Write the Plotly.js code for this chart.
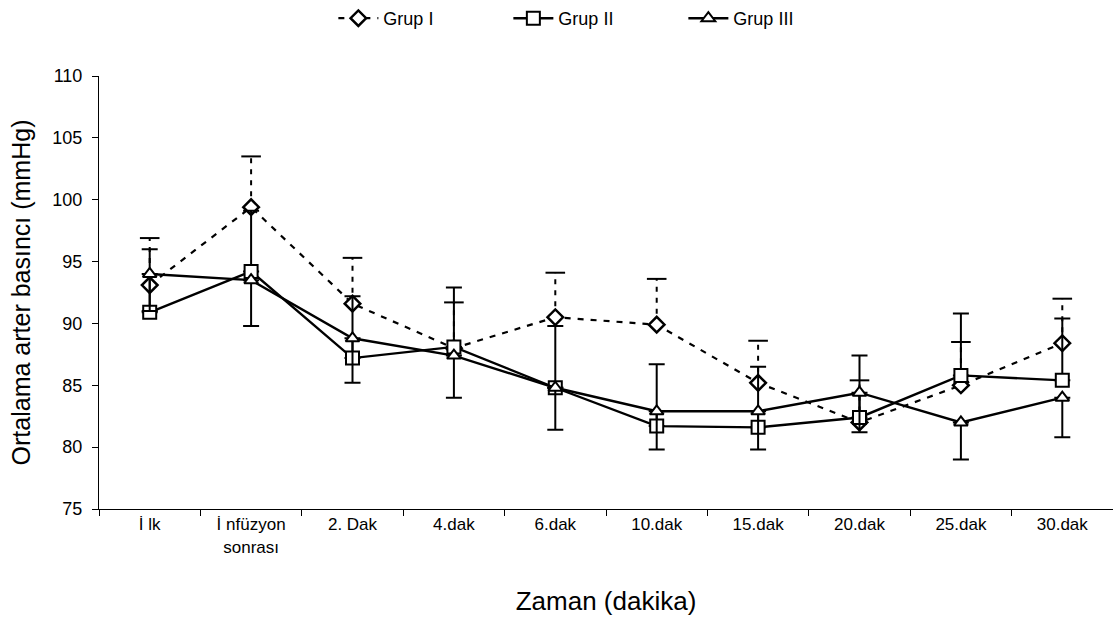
<!DOCTYPE html>
<html>
<head>
<meta charset="utf-8">
<script src="https://cdn.plot.ly/plotly-3.0.1.min.js"></script>
<style>html,body{margin:0;padding:0;background:#fff;}#chart{width:1113px;height:625px;}</style>
</head>
<body>
<div id="chart"></div>
<script>
// ---- data ----
const categories = ["İ lk", "İ nfüzyon<br>sonrası", "2. Dak", "4.dak", "6.dak", "10.dak", "15.dak", "20.dak", "25.dak", "30.dak"];
const grup1 = [93.1, 99.4, 91.6, 88.0, 90.5, 89.9, 85.2, 82.0, 85.0, 88.4];
const grup1Plus = [3.8, 4.1, 3.7, 3.7, 3.6, 3.7, 3.4, 3.4, 3.5, 3.6];
const grup2 = [90.9, 94.2, 87.2, 88.1, 84.8, 81.7, 81.6, 82.4, 85.8, 85.4];
const grup2Plus = [5.1, 4.9, 5.0, 4.8, 5.0, 5.0, 4.9, 5.0, 5.0, 5.0];
const grup3 = [94.0, 93.5, 88.8, 87.4, 84.8, 82.9, 82.9, 84.4, 82.0, 84.0];
const grup3Minus = [3.0, 3.7, 3.6, 3.4, 3.4, 3.1, 3.1, 3.2, 3.0, 3.2];
const yTickVals = [75, 80, 85, 90, 95, 100, 105, 110];

const FONT = "Liberation Sans, Arial, sans-serif";
const zeros = categories.map(() => 0);

// dashed error bars for Grup I built from its data
const g1ErrX = [], g1ErrY = [];
categories.forEach((c, i) => {
  g1ErrX.push(c, c, null);
  g1ErrY.push(grup1[i], grup1[i] + grup1Plus[i], null);
});
const g1TopY = grup1.map((v, i) => v + grup1Plus[i]);

const traces = [
  {
    x: g1ErrX, y: g1ErrY, type: "scatter", mode: "lines",
    line: {color: "#000", width: 2, dash: "5px,6px"},
    showlegend: false, hoverinfo: "skip", connectgaps: false
  },
  {
    x: categories, y: g1TopY, type: "scatter", mode: "markers",
    marker: {symbol: "line-ew", size: 14, line: {color: "#000", width: 2}},
    showlegend: false, hoverinfo: "skip"
  },
  {
    name: "Grup I", x: categories, y: grup1, type: "scatter", mode: "lines+markers",
    line: {color: "#000", width: 2.2, dash: "6px,7px"},
    marker: {symbol: "diamond", size: 12, color: "#fff", line: {color: "#000", width: 2.5}}
  },
  {
    name: "Grup II", x: categories, y: grup2, type: "scatter", mode: "lines+markers",
    line: {color: "#000", width: 2.4},
    marker: {symbol: "square", size: 13, color: "#fff", line: {color: "#000", width: 2}},
    error_y: {type: "data", symmetric: false, array: grup2Plus, arrayminus: zeros,
              color: "#000", thickness: 2, width: 8}
  },
  {
    name: "Grup III", x: categories, y: grup3, type: "scatter", mode: "lines+markers",
    line: {color: "#000", width: 2.4},
    marker: {symbol: "triangle-up", size: 12, color: "#fff", line: {color: "#000", width: 2}},
    error_y: {type: "data", symmetric: false, array: zeros, arrayminus: grup3Minus,
              color: "#000", thickness: 2, width: 8}
  }
];

const layout = {
  width: 1113, height: 625,
  margin: {l: 99, r: 0, t: 75, b: 116},
  paper_bgcolor: "#fff", plot_bgcolor: "#fff",
  font: {family: FONT, color: "#000", size: 17},
  showlegend: true,
  legend: {
    orientation: "h", x: 0.49, xanchor: "center", y: 1.134, yanchor: "middle",
    font: {family: FONT, size: 18, color: "#000"}, itemwidth: 40,
    entrywidth: 120, entrywidthmode: "pixels",
    bgcolor: "rgba(0,0,0,0)"
  },
  xaxis: {
    type: "category", categoryorder: "array", categoryarray: categories,
    range: [-0.5, 9.5],
    showline: true, linecolor: "#000", linewidth: 1,
    ticks: "outside", tickson: "boundaries", ticklen: 6, tickcolor: "#000", tickwidth: 1,
    showgrid: false, zeroline: false,
    tickfont: {family: FONT, size: 17, color: "#000"},
    title: {text: "Zaman (dakika)", font: {family: FONT, size: 26, color: "#000"}, standoff: 36}
  },
  yaxis: {
    range: [75, 110], tickvals: yTickVals,
    showline: true, linecolor: "#000", linewidth: 1,
    ticks: "outside", ticklen: 6, tickcolor: "#000", tickwidth: 1,
    showgrid: false, zeroline: false,
    tickfont: {family: FONT, size: 18, color: "#000"},
    ticklabelstandoff: 6,
    title: {text: "Ortalama arter basıncı (mmHg)", font: {family: FONT, size: 25, color: "#000"}, standoff: 14}
  }
};

Plotly.newPlot("chart", traces, layout, {displayModeBar: false, staticPlot: true});
</script>
</body>
</html>
